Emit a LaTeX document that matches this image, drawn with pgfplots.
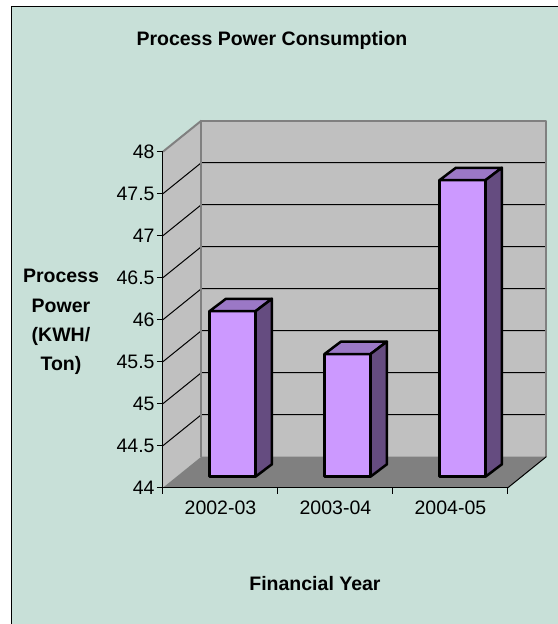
\documentclass[border=0pt]{standalone}
\usepackage{pgfplots}
\pgfplotsset{compat=1.18}
\usepackage{fontspec}
\setmainfont{Liberation Sans}
\definecolor{bgc}{RGB}{200,224,216}
\definecolor{wallc}{RGB}{192,192,192}
\definecolor{floorc}{RGB}{128,128,128}
\definecolor{barfront}{RGB}{204,153,255}
\definecolor{bartop}{RGB}{155,120,198}
\definecolor{barside}{RGB}{101,76,128}
\pgfdeclareplotmark{nomark}{}
\newcommand{\lblfont}{\fontsize{9.75}{14.65}\selectfont}
\begin{document}
\begin{tikzpicture}
\begin{axis}[
  scale only axis, width=172.5pt, height=168pt,
  xmin=0.5, xmax=3.5, ymin=44, ymax=48,
  clip=false, axis on top,
  axis x line*=bottom, axis y line*=left,
  axis line style={black, line width=0.5pt},
  tick align=outside,
  ytick={44,44.5,45,45.5,46,46.5,47,47.5,48},
  major tick length=3pt, minor tick length=3pt,
  tick style={black, line width=0.5pt},
  xtick={1,2,3}, xticklabels={2002-03,2003-04,2004-05},
  major x tick style={draw=none},
  minor xtick={0.5,1.5,2.5,3.5},
  /pgf/number format/assume math mode=true,
  ticklabel style={font=\lblfont},
  yticklabel style={inner sep=1pt},
  xticklabel style={inner sep=3.5pt},
]
% background and frame
\fill[white] (axis cs:-0.917,42.377) rectangle (axis cs:3.935,49.806);
\filldraw[fill=bgc, draw=black, line width=0.5pt] (axis cs:-0.813,42.354) rectangle (axis cs:3.952,49.734);
\coordinate (BL) at (axis cs:-0.917,42.377);
\coordinate (TR) at (axis cs:3.935,49.806);
% walls
\fill[wallc] (axis cs:0.834,44.369) rectangle (axis cs:3.834,48.369);
\fill[wallc] (axis cs:0.5,44) -- (axis cs:0.834,44.369) -- (axis cs:0.834,48.369) -- (axis cs:0.5,48) -- cycle;
% gridlines
\draw[black, line width=0.5pt]
  (axis cs:0.5,44.5) -- (axis cs:0.834,44.869) -- (axis cs:3.834,44.869)
  (axis cs:0.5,45) -- (axis cs:0.834,45.369) -- (axis cs:3.834,45.369)
  (axis cs:0.5,45.5) -- (axis cs:0.834,45.869) -- (axis cs:3.834,45.869)
  (axis cs:0.5,46) -- (axis cs:0.834,46.369) -- (axis cs:3.834,46.369)
  (axis cs:0.5,46.5) -- (axis cs:0.834,46.869) -- (axis cs:3.834,46.869)
  (axis cs:0.5,47) -- (axis cs:0.834,47.369) -- (axis cs:3.834,47.369)
  (axis cs:0.5,47.5) -- (axis cs:0.834,47.869) -- (axis cs:3.834,47.869);
% floor
\fill[floorc] (axis cs:0.5,44) -- (axis cs:3.5,44) -- (axis cs:3.834,44.369) -- (axis cs:0.834,44.369) -- cycle;
% wall borders
\draw[floorc, line width=1pt, line join=round] (axis cs:0.834,44.369) -- (axis cs:0.834,48.369) -- (axis cs:3.834,48.369) -- (axis cs:3.834,44.369);
\draw[floorc, line width=1pt] (axis cs:0.5,48) -- (axis cs:0.834,48.369);
\draw[black, line width=0.5pt] (axis cs:3.5,44) -- (axis cs:3.834,44.369);
% bars (3D cuboids built from each data point)
\addplot[scatter, only marks, mark=nomark,
  visualization depends on={value \thisrow{v} \as \val},
  scatter/@pre marker code/.code={%
    \begingroup
    \pgfkeys{/pgf/fpu=false}%
    \pgfmathsetmacro\h{\val-44}%
    \pgfmathsetmacro\b{0.131-\h}%
    \pgfmathsetmacro\bb{0.2786-\h}%
    \begin{scope}[line width=1.25pt, line join=round, draw=black]
      \filldraw[fill=barfront] (axis direction cs:-0.095,0.131) -- (axis direction cs:0.305,0.131) -- (axis direction cs:0.305,\b) -- (axis direction cs:-0.095,\b) -- cycle;
      \filldraw[fill=bartop] (axis direction cs:-0.095,0.131) -- (axis direction cs:0.305,0.131) -- (axis direction cs:0.4476,0.2786) -- (axis direction cs:0.0476,0.2786) -- cycle;
      \filldraw[fill=barside] (axis direction cs:0.305,0.131) -- (axis direction cs:0.4476,0.2786) -- (axis direction cs:0.4476,\bb) -- (axis direction cs:0.305,\b) -- cycle;
    \end{scope}
    \endgroup
  },
  scatter/@post marker code/.code={},
] table[x=x, y=v] {
x v
1 45.97
2 45.46
3 47.53
};
% texts
\node[font=\lblfont\bfseries] at (axis cs:1.448,49.33) {Process Power Consumption};
\node[font=\lblfont\bfseries] at (axis cs:1.822,42.855) {Financial Year};
\node[font=\lblfont\bfseries, align=center] at (axis cs:-0.387,45.972) {Process\\Power\\(KWH/\\Ton)};
\end{axis}
\pgfresetboundingbox
\path[use as bounding box] (BL) rectangle (TR);
\end{tikzpicture}
\end{document}
